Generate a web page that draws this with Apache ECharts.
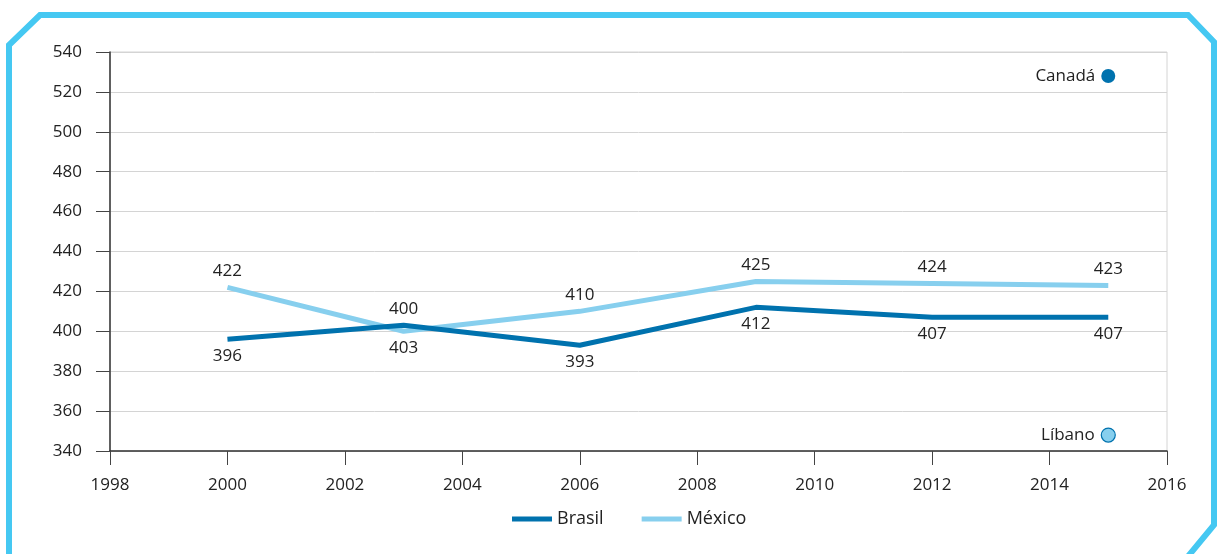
<!DOCTYPE html>
<html>
<head>
<meta charset="utf-8">
<script src="https://cdn.jsdelivr.net/npm/echarts@6/dist/echarts.min.js"></script>
<style>
  html, body { margin: 0; padding: 0; background: #fff; }
  #main { width: 1217px; height: 554px; }
</style>
</head>
<body>
<div id="main"></div>
<script>
var years = [2000, 2003, 2006, 2009, 2012, 2015];
var brasil = [396, 403, 393, 412, 407, 407];
var mexico = [422, 400, 410, 425, 424, 423];
var canada = [[2015, 528]];
var libano = [[2015, 348]];

// the 2003 labels sit a bit farther from the crossing lines
function pairs(vals) {
    return years.map(function (y, i) {
        var item = { value: [y, vals[i]] };
        if (y === 2003) item.label = { distance: 14 };
        return item;
    });
}

var font = '"Open Sans", "Noto Sans", sans-serif';
var myChart = echarts.init(document.getElementById('main'));
myChart.setOption({
    textStyle: { fontFamily: font },
    animation: false,
    grid: {
        left: 110, right: 50, top: 52, bottom: 103,
        show: true, borderColor: '#d4d4d4', borderWidth: 1
    },
    legend: {
        bottom: 21,
        left: 507,
        itemWidth: 40, itemHeight: 5, itemGap: 38,
        textStyle: { fontSize: 18, color: '#222', fontFamily: font },
        data: [
            { name: 'Brasil', icon: 'rect', itemStyle: { color: '#0072ae' } },
            { name: 'México', icon: 'rect', itemStyle: { color: '#87cfee' } }
        ]
    },
    xAxis: {
        type: 'value',
        min: 1998, max: 2016, interval: 2,
        axisLine: { lineStyle: { color: '#333', width: 1.5 } },
        axisTick: { show: true, length: 14, lineStyle: { color: '#444' } },
        axisLabel: { fontSize: 17, color: '#222', margin: 26, formatter: function (v) { return String(v); } },
        splitLine: { show: false }
    },
    yAxis: {
        type: 'value',
        min: 340, max: 540, interval: 20,
        axisLine: { show: true, lineStyle: { color: '#333', width: 1.5 } },
        axisTick: { show: true, length: 14, lineStyle: { color: '#444' } },
        axisLabel: { fontSize: 17, color: '#222', margin: 28 },
        splitLine: { lineStyle: { color: '#d4d4d4' } }
    },
    series: [
        {
            name: 'Brasil', type: 'line',
            data: pairs(brasil),
            symbol: 'circle', symbolSize: 0, showSymbol: true,
            lineStyle: { color: '#0072ae', width: 5 },
            itemStyle: { color: '#0072ae' },
            label: { show: true, position: 'bottom', distance: 8, fontSize: 17, color: '#222' },
            z: 3
        },
        {
            name: 'México', type: 'line',
            data: pairs(mexico),
            symbol: 'circle', symbolSize: 0, showSymbol: true,
            lineStyle: { color: '#87cfee', width: 5 },
            itemStyle: { color: '#87cfee' },
            label: { show: true, position: 'top', distance: 8, fontSize: 17, color: '#222' },
            z: 2
        },
        {
            name: 'Canadá', type: 'scatter',
            data: canada,
            symbolSize: 14,
            itemStyle: { color: '#0072ae', opacity: 1 },
            label: { show: true, position: 'left', distance: 6, fontSize: 17, color: '#222', formatter: 'Canadá' }
        },
        {
            name: 'Líbano', type: 'scatter',
            data: libano,
            symbolSize: 14,
            itemStyle: { color: '#87cfee', borderColor: '#0072ae', borderWidth: 1.2, opacity: 1 },
            label: { show: true, position: 'left', distance: 6, fontSize: 17, color: '#222', formatter: 'Líbano' }
        }
    ],
    graphic: [
        {
            type: 'polyline',
            shape: {
                points: [[9, 560], [9, 45], [40, 15], [1188, 15], [1214, 42], [1214, 525], [1185, 560]]
            },
            style: { stroke: '#45c8f2', lineWidth: 6, fill: null },
            silent: true
        }
    ]
});
</script>
</body>
</html>
